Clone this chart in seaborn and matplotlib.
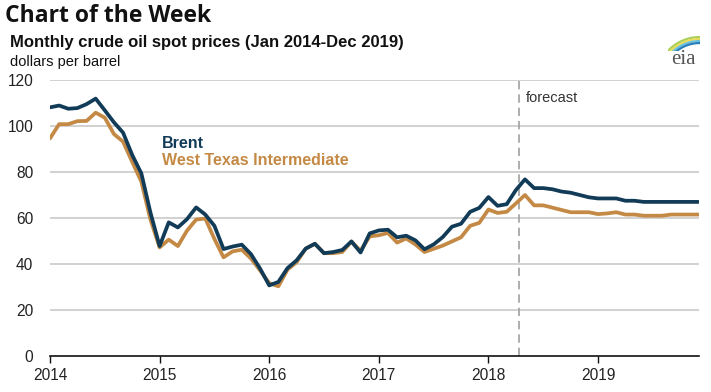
import numpy as np
import pandas as pd
import matplotlib
matplotlib.use("Agg")
import matplotlib.pyplot as plt
import seaborn as sns
from matplotlib.patches import Arc

# ---- data (dollars per barrel), monthly Jan 2014 - Dec 2019 ----
brent = [
    108.1, 108.9, 107.5, 107.8, 109.5, 111.9, 106.8, 101.6, 97.1, 87.4, 79.4, 62.3,   # 2014
    47.8, 58.1, 55.9, 59.5, 64.6, 61.5, 56.6, 46.5, 47.6, 48.4, 44.3, 38.0,          # 2015
    30.7, 32.2, 38.2, 41.6, 46.7, 48.8, 44.7, 45.2, 46.1, 49.8, 45.0, 53.3,          # 2016
    54.6, 54.9, 51.6, 52.3, 50.3, 46.4, 48.5, 51.7, 56.2, 57.5, 62.7, 64.4,          # 2017
    69.1, 65.3, 66.0, 72.1, 76.8, 73.0, 73.0, 72.5, 71.5, 71.0, 70.0, 69.0,          # 2018
    68.5, 68.5, 68.5, 67.5, 67.5, 67.0, 67.0, 67.0, 67.0, 67.0, 67.0, 67.0,          # 2019
]
wti = [
    94.6, 100.8, 100.8, 102.1, 102.2, 105.8, 103.6, 96.5, 93.2, 84.4, 75.8, 59.3,    # 2014
    47.2, 50.6, 47.8, 54.5, 59.3, 59.8, 50.9, 42.9, 45.5, 46.2, 42.4, 37.2,          # 2015
    31.7, 30.3, 37.5, 40.8, 46.7, 48.8, 44.7, 44.7, 45.2, 49.8, 45.7, 52.0,          # 2016
    52.5, 53.5, 49.3, 51.1, 48.5, 45.2, 46.6, 48.0, 49.8, 51.6, 56.6, 57.9,          # 2017
    63.7, 62.2, 62.7, 66.3, 70.0, 65.5, 65.5, 64.5, 63.5, 62.5, 62.5, 62.5,          # 2018
    61.7, 62.0, 62.5, 61.5, 61.5, 61.0, 61.0, 61.0, 61.5, 61.5, 61.5, 61.5,          # 2019
]
year_ticks = [2014, 2015, 2016, 2017, 2018, 2019]
y_ticks = [0, 20, 40, 60, 80, 100, 120]
series_names = ["Brent", "West Texas Intermediate"]
forecast_start = 2018 + 3.3 / 12

months = 2014 + np.arange(len(brent)) / 12.0
df = pd.DataFrame({
    "t": np.concatenate([months, months]),
    "price": np.concatenate([brent, wti]),
    "series": [series_names[0]] * len(brent) + [series_names[1]] * len(wti),
})

BRENT_C = "#123b58"
WTI_C = "#c48a45"

sns.set_theme(style="white")
plt.rcParams["font.family"] = ["Liberation Sans", "DejaVu Sans"]

fig = plt.figure(figsize=(7.11, 3.92), dpi=100)
ax = fig.add_axes([50 / 711, 1 - 356 / 392, (698.5 - 50) / 711, (356 - 80) / 392])

# gridlines
for yv in y_ticks[1:]:
    ax.axhline(yv, color="#c9c9c9", lw=1.2, zorder=0)

sns.lineplot(data=df, x="t", y="price", hue="series",
             palette={series_names[0]: BRENT_C, series_names[1]: WTI_C},
             hue_order=[series_names[1], series_names[0]],
             lw=2.7, legend=False, ax=ax, zorder=3)

ax.axvline(forecast_start, color="#a0a0a0", lw=1.2, ls=(0, (5, 3)), zorder=2)
ax.text(forecast_start + 0.07, 112, "forecast", fontsize=10.5, color="#333333",
        va="center", ha="left")

ax.text(2015.02, 92.5, "Brent", color=BRENT_C, fontsize=11.5, fontweight="bold",
        va="center", ha="left")
ax.text(2015.02, 85.0, "West Texas Intermediate", color=WTI_C, fontsize=11.5,
        fontweight="bold", va="center", ha="left")

ax.set_xlim(2014, 2014 + 71 / 12)
ax.set_ylim(0, 120)
ax.set_xticks(year_ticks)
ax.set_xticklabels([str(y) for y in year_ticks], fontsize=11.2, color="#222222")
ax.set_yticks(y_ticks)
ax.set_yticklabels([str(y) for y in y_ticks], fontsize=11.2, color="#222222")
ax.set_xlabel("")
ax.set_ylabel("")
for s in ["top", "right", "left"]:
    ax.spines[s].set_visible(False)
ax.spines["bottom"].set_color("#111111")
ax.spines["bottom"].set_linewidth(1.2)
ax.spines["bottom"].set_zorder(4)
ax.tick_params(axis="x", which="both", bottom=True, length=5, width=1, color="#111111",
               direction="out", pad=4)
ax.tick_params(axis="y", length=0, pad=12)

# titles
fig.text(5 / 711, 1 - 16 / 392, "Chart of the Week", fontsize=16.5, fontweight="bold",
         family=["Open Sans", "DejaVu Sans"], color="#111111", va="center", ha="left")
fig.text(10 / 711, 1 - 43 / 392, "Monthly crude oil spot prices (Jan 2014-Dec 2019)",
         fontsize=12, fontweight="bold", color="#111111", va="center", ha="left")
fig.text(10 / 711, 1 - 62 / 392, "dollars per barrel", fontsize=10.5,
         color="#111111", va="center", ha="left")

# eia logo
fig.text(683 / 711, 1 - 60 / 392, "eia", fontsize=15, family=["Liberation Serif"],
         color="#555555", va="center", ha="center")
lax = fig.add_axes([668 / 711, 1 - 51 / 392, 32 / 711, 15 / 392])
lax.set_xlim(0, 32)
lax.set_ylim(0, 15)
lax.axis("off")
for r, c in [(44, "#a9cf5a"), (42, "#e8dc5a"), (40, "#6cc0e0"), (38, "#2a7fb8")]:
    lax.add_patch(Arc((32, -30), 2 * r, 2 * r, theta1=90, theta2=140, color=c,
                      lw=1.6, clip_on=True))

fig.savefig("out.png", dpi=100)
